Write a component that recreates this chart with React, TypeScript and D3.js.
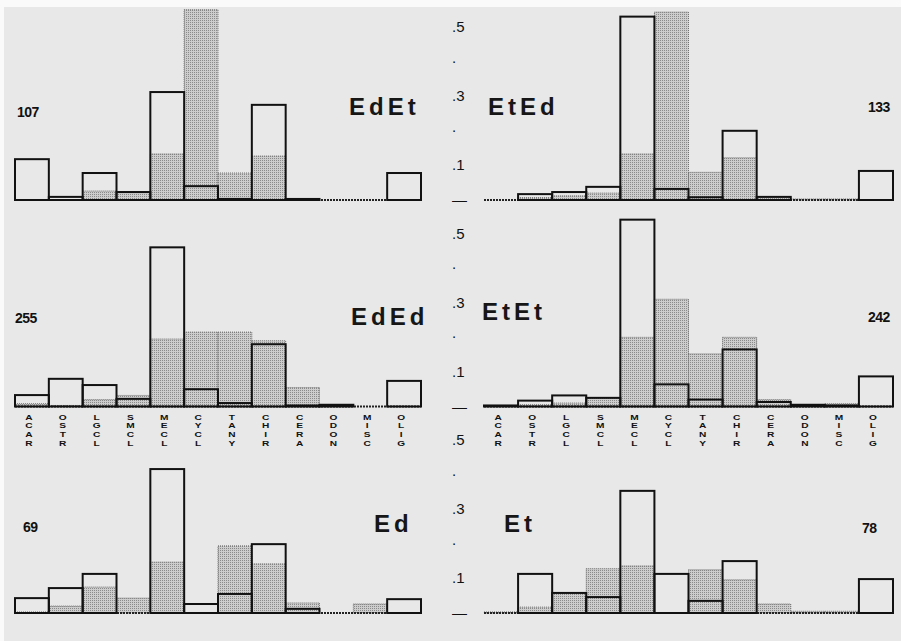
import * as d3 from 'd3';
import React from 'react';

// prey categories along the x axis
const categories = ['ACAR', 'OSTR', 'LGCL', 'SMCL', 'MECL', 'CYCL', 'TANY', 'CHIR', 'CERA', 'ODON', 'MISC', 'OLIG'];

// y axis ticks (proportion)
const tickValues = [0.5, 0.4, 0.3, 0.2, 0.1, 0];
const tickLabels = ['.5', '.', '.3', '.', '.1', '—'];

// open bars (outline) and stippled bars, one pair per panel
const edEtOpen = [0.118, 0.009, 0.078, 0.023, 0.312, 0.04, 0.003, 0.275, 0.003, 0, 0, 0.078];
const edEtShade = [0, 0, 0.026, 0.023, 0.133, 0.55, 0.078, 0.127, 0.004, 0, 0, 0];

const etEdOpen = [0, 0.017, 0.023, 0.038, 0.53, 0.032, 0.008, 0.2, 0.009, 0, 0, 0.084];
const etEdShade = [0, 0.007, 0.012, 0.02, 0.133, 0.543, 0.08, 0.122, 0.007, 0.003, 0.003, 0];

const edEdOpen = [0.033, 0.08, 0.062, 0.022, 0.46, 0.05, 0.01, 0.18, 0.003, 0.005, 0, 0.074];
const edEdShade = [0.008, 0.003, 0.02, 0.032, 0.195, 0.215, 0.215, 0.19, 0.055, 0.003, 0, 0];

const etEtOpen = [0.003, 0.017, 0.032, 0.025, 0.54, 0.064, 0.02, 0.165, 0.013, 0.005, 0.003, 0.087];
const etEtShade = [0, 0.005, 0.01, 0.025, 0.2, 0.31, 0.152, 0.2, 0.02, 0.005, 0.008, 0];

const edOpen = [0.043, 0.072, 0.113, 0, 0.416, 0.026, 0.055, 0.199, 0.012, 0, 0, 0.04];
const edShade = [0.003, 0.02, 0.075, 0.043, 0.147, 0, 0.194, 0.142, 0.029, 0, 0.026, 0];

const etOpen = [0, 0.113, 0.058, 0.046, 0.353, 0.113, 0.035, 0.15, 0, 0, 0, 0.098];
const etShade = [0.003, 0.017, 0.058, 0.128, 0.136, 0, 0.125, 0.096, 0.026, 0.005, 0.005, 0];

const panelNames = ['EdEt', 'EtEd', 'EdEd', 'EtEt', 'Ed', 'Et'];
const panelCounts = ['107', '133', '255', '242', '69', '78'];

const W = 901, H = 641;
const colRange: [number, number][] = [[15, 421], [484, 893]];
const rowBase = [200, 406.5, 613];
const unitPx = 346;

const panels = [
  { open: edEtOpen, shade: edEtShade, col: 0, row: 0, tx: 349, ty: 115, nx: 17, ny: 117 },
  { open: etEdOpen, shade: etEdShade, col: 1, row: 0, tx: 488, ty: 115, nx: 868, ny: 112 },
  { open: edEdOpen, shade: edEdShade, col: 0, row: 1, tx: 351, ty: 325, nx: 15, ny: 323 },
  { open: etEtOpen, shade: etEtShade, col: 1, row: 1, tx: 482, ty: 320, nx: 868, ny: 322 },
  { open: edOpen, shade: edShade, col: 0, row: 2, tx: 374, ty: 532, nx: 23, ny: 532 },
  { open: etOpen, shade: etShade, col: 1, row: 2, tx: 504, ty: 532, nx: 862, ny: 533 },
];

const font = '"Liberation Sans", Arial, sans-serif';

const Panel = ({ p, i }: { p: typeof panels[number]; i: number }) => {
  const x = d3.scaleBand<string>().domain(categories).range(colRange[p.col]).padding(0);
  const base = rowBase[p.row];
  const y = d3.scaleLinear().domain([0, 0.5]).range([base, base - 0.5 * unitPx]);
  const bw = x.bandwidth();
  return (
    <g>
      {categories.map((c, k) => p.shade[k] > 0 ? (
        <rect key={'s' + k} x={x(c)} y={y(p.shade[k])} width={bw} height={base - y(p.shade[k])}
          fill="url(#stipple)" stroke="#6e6e6e" strokeWidth={1} strokeDasharray="1,1" />
      ) : null)}
      <line x1={colRange[p.col][0]} x2={colRange[p.col][1]} y1={base} y2={base}
        stroke="#222" strokeWidth={2} strokeDasharray="2,1" />
      {categories.map((c, k) => p.open[k] > 0 ? (
        <rect key={'o' + k} x={x(c)} y={y(p.open[k])} width={bw} height={base - y(p.open[k])}
          fill="none" stroke="#111" strokeWidth={2} />
      ) : null)}
      <text x={p.tx} y={p.ty} fontFamily={font} fontSize={24} fontWeight={700} letterSpacing={4} fill="#161616">{panelNames[i]}</text>
      <text x={p.nx} y={p.ny} fontFamily={font} fontSize={14} fontWeight={700} letterSpacing={-0.5} fill="#111">{panelCounts[i]}</text>
      {p.col === 1 && tickValues.map((t, k) => (
        <text key={'t' + k} x={452} y={y(t) + (tickLabels[k] === '.' ? 1 : 5)} fontFamily={font} fontSize={15} fill="#111">{tickLabels[k]}</text>
      ))}
    </g>
  );
};

// stacked letters under the middle panels, one text per letter (widened a little)
const CategoryLabels = ({ col }: { col: number }) => {
  const x = d3.scaleBand<string>().domain(categories).range(colRange[col]).padding(0);
  return (
    <g>
      {categories.map(c => c.split('').map((ch, j) => (
        <text key={c + j}
          transform={`translate(${(x(c) as number) + x.bandwidth() / 2 - 3},${419.6 + j * 8.75}) scale(1.3,1)`}
          textAnchor="middle" fontFamily={font} fontSize={7.8} fontWeight={700} fill="#111">{ch}</text>
      )))}
    </g>
  );
};

export default function App() {
  return (
    <svg width={W} height={H} style={{ position: 'absolute', left: 0, top: 0 }}>
      <defs>
        <pattern id="stipple" width={2} height={2} patternUnits="userSpaceOnUse">
          <rect width={2} height={2} fill="#cdcdcd" />
          <rect width={1} height={1} fill="#8a8a8a" />
        </pattern>
      </defs>
      <rect width={W} height={H} fill="#fafafa" />
      <rect x={4} y={7} width={W - 4} height={H - 7} fill="#e8e8e8" />
      {panels.map((p, i) => <Panel key={i} p={p} i={i} />)}
      <CategoryLabels col={0} />
      <CategoryLabels col={1} />
    </svg>
  );
}
